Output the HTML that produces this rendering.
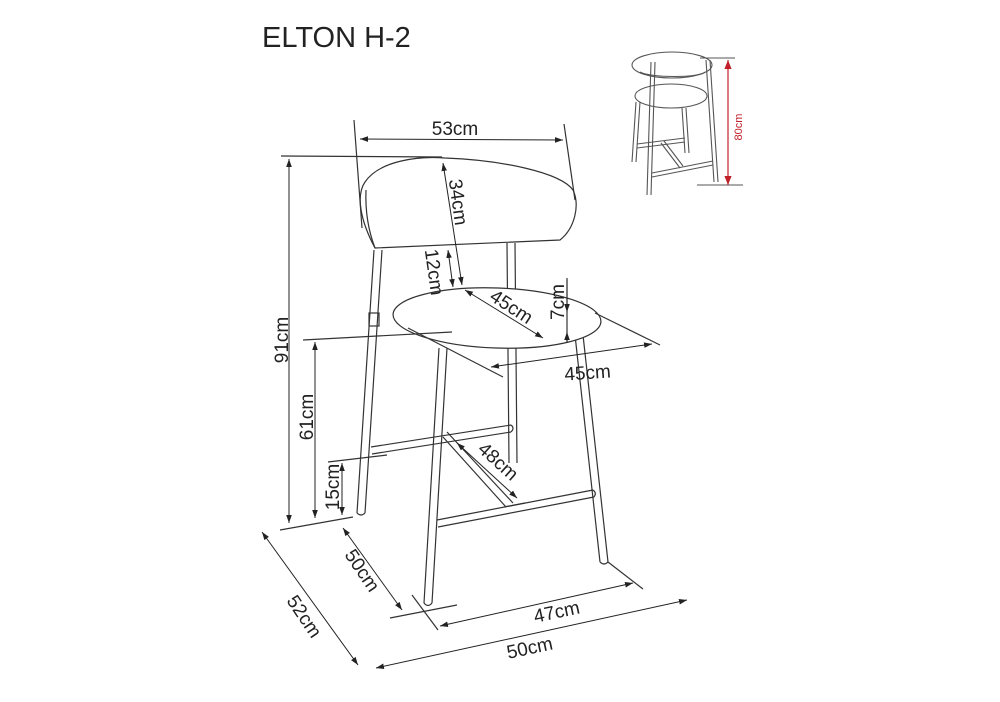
<!DOCTYPE html>
<html><head><meta charset="utf-8"><style>
html,body{margin:0;padding:0;background:#fff}
svg{display:block}
text{font-family:"Liberation Sans",sans-serif;fill:#222}
</style></head><body>
<svg width="1000" height="702" viewBox="0 0 1000 702" xmlns="http://www.w3.org/2000/svg">
<defs>
<marker id="a" viewBox="0 0 10 10" refX="10" refY="5" markerWidth="8" markerHeight="8" orient="auto-start-reverse" markerUnits="userSpaceOnUse"><path d="M0,1.5 L10,5 L0,8.5 z" fill="#222"/></marker>
<marker id="r" viewBox="0 0 10 10" refX="10" refY="5" markerWidth="9" markerHeight="9" orient="auto-start-reverse" markerUnits="userSpaceOnUse"><path d="M0,1 L10,5 L0,9 z" fill="#c0202a"/></marker>
</defs>
<text x="262" y="47" font-size="29">ELTON H-2</text>

<g fill="none" stroke="#333" stroke-width="1.2">
<path d="M374,250 L357,513 M382,250 L365,513"/>
<path d="M357,513 Q361,517 365,513"/>
<path d="M507,243 L509,463 M515,243 L517,463"/>
<path d="M439,348 L424,603 M447,348 L432,603"/>
<path d="M424,603 Q428,608 432,603"/>
<path d="M575,335 L600,562 M583,335 L608,562"/>
<path d="M600,562 Q604,566 608,562"/>
<path d="M371,447 L511,425 M372,454 L511,432"/>
<path d="M511,425 Q515,428 511,432"/>
<path d="M437,520 L593,490 M438,527 L594,497"/>
<path d="M593,490 Q597,493 594,497"/>
<path d="M443,437 L506,507 M447,432 L513,503"/>
<path d="M504,507 L525,503"/>
<rect x="369" y="313" width="10" height="13"/>
<path fill="#fff" d="M375,248 C360,220 356,195 365,182 C380,160 420,156 445,158 C500,160 560,172 573,190 C580,205 575,228 560,240 Z"/>
<path d="M366,190 C365,215 370,235 375,248"/>
<ellipse cx="497" cy="318" rx="104" ry="30" transform="rotate(2 497 318)" fill="#fff"/>
<path d="M354,120 L362,228 M564,124 L575,200"/>
<path d="M281,156 L442,157"/>
<path d="M303,340 L452,332"/>
<path d="M280,530 L353,517"/>
<path d="M328,462 L387,455"/>
<path d="M408,328 L503,377 M595,313 L660,345"/>
<path d="M390,618 L457,605 M412,595 L438,630 M608,562 L643,589"/>
<path d="M567,278 L567,343"/>
</g>
<g fill="none" stroke="#222" stroke-width="1" marker-start="url(#a)" marker-end="url(#a)">
<line x1="360" y1="139" x2="563" y2="140"/>
<line x1="289" y1="159" x2="289" y2="523"/>
<line x1="443" y1="163" x2="462" y2="285"/>
<line x1="448" y1="250" x2="453" y2="287"/>
<line x1="465" y1="290" x2="543" y2="338"/>
<line x1="491" y1="367" x2="652" y2="344"/>
<line x1="315" y1="342" x2="315" y2="518"/>
<line x1="342" y1="463" x2="342" y2="515"/>
<line x1="457" y1="443" x2="517" y2="498"/>
<line x1="262" y1="532" x2="358" y2="665"/>
<line x1="343" y1="528" x2="402" y2="610"/>
<line x1="440" y1="626" x2="633" y2="583"/>
<line x1="376" y1="668" x2="687" y2="600"/>
</g>
<g fill="none" stroke="#222" stroke-width="1">
<line x1="567" y1="280" x2="567" y2="312" marker-end="url(#a)"/>
<line x1="567" y1="343" x2="567" y2="332" marker-end="url(#a)"/>
</g>

<g font-size="19">
<text x="455" y="135" text-anchor="middle">53cm</text>
<text transform="translate(288,340) rotate(-90)" text-anchor="middle">91cm</text>
<text transform="translate(452,203) rotate(82)" text-anchor="middle">34cm</text>
<text transform="translate(428,273) rotate(82)" text-anchor="middle">12cm</text>
<text transform="translate(508,312) rotate(33)" text-anchor="middle">45cm</text>
<text transform="translate(564,302) rotate(-90)" text-anchor="middle">7cm</text>
<text x="588" y="379" text-anchor="middle" transform="rotate(-4 588 379)">45cm</text>
<text transform="translate(313,417) rotate(-90)" text-anchor="middle">61cm</text>
<text transform="translate(339,487) rotate(-90)" text-anchor="middle">15cm</text>
<text transform="translate(494,466) rotate(42)" text-anchor="middle">48cm</text>
<text transform="translate(357,574) rotate(56)" text-anchor="middle">50cm</text>
<text transform="translate(299,620) rotate(56)" text-anchor="middle">52cm</text>
<text transform="translate(558,618) rotate(-12)" text-anchor="middle">47cm</text>
<text transform="translate(531,654) rotate(-12)" text-anchor="middle">50cm</text>
</g>

<g fill="none" stroke="#555" stroke-width="1.1">
<ellipse cx="672" cy="65" rx="40" ry="13" fill="#fff"/>
<path d="M640,72 C650,78 700,78 705,72"/>
<path d="M636,102 L632,162 M640,102 L636,162"/>
<path d="M682,108 L685,153 M686,108 L689,153"/>
<ellipse cx="671" cy="96" rx="36" ry="12" fill="#fff"/>
<path d="M651,62 L647,195 M655,62 L651,195"/>
<path d="M706,60 L714,182 M710,60 L718,182"/>
<path d="M637,144 L685,138 M637,148 L685,142"/>
<path d="M652,173 L713,161 M652,177 L713,165"/>
<path d="M661,143 L680,168 M664,141 L683,166"/>
<path d="M700,58 L735,58 M697,185 L743,185"/>
</g>
<line x1="728" y1="60" x2="728" y2="185" stroke="#c0202a" stroke-width="1.2" marker-start="url(#r)" marker-end="url(#r)"/>
<text transform="translate(742,127) rotate(-90)" text-anchor="middle" font-size="11" style="fill:#c0202a">80cm</text>
</svg>
</body></html>
